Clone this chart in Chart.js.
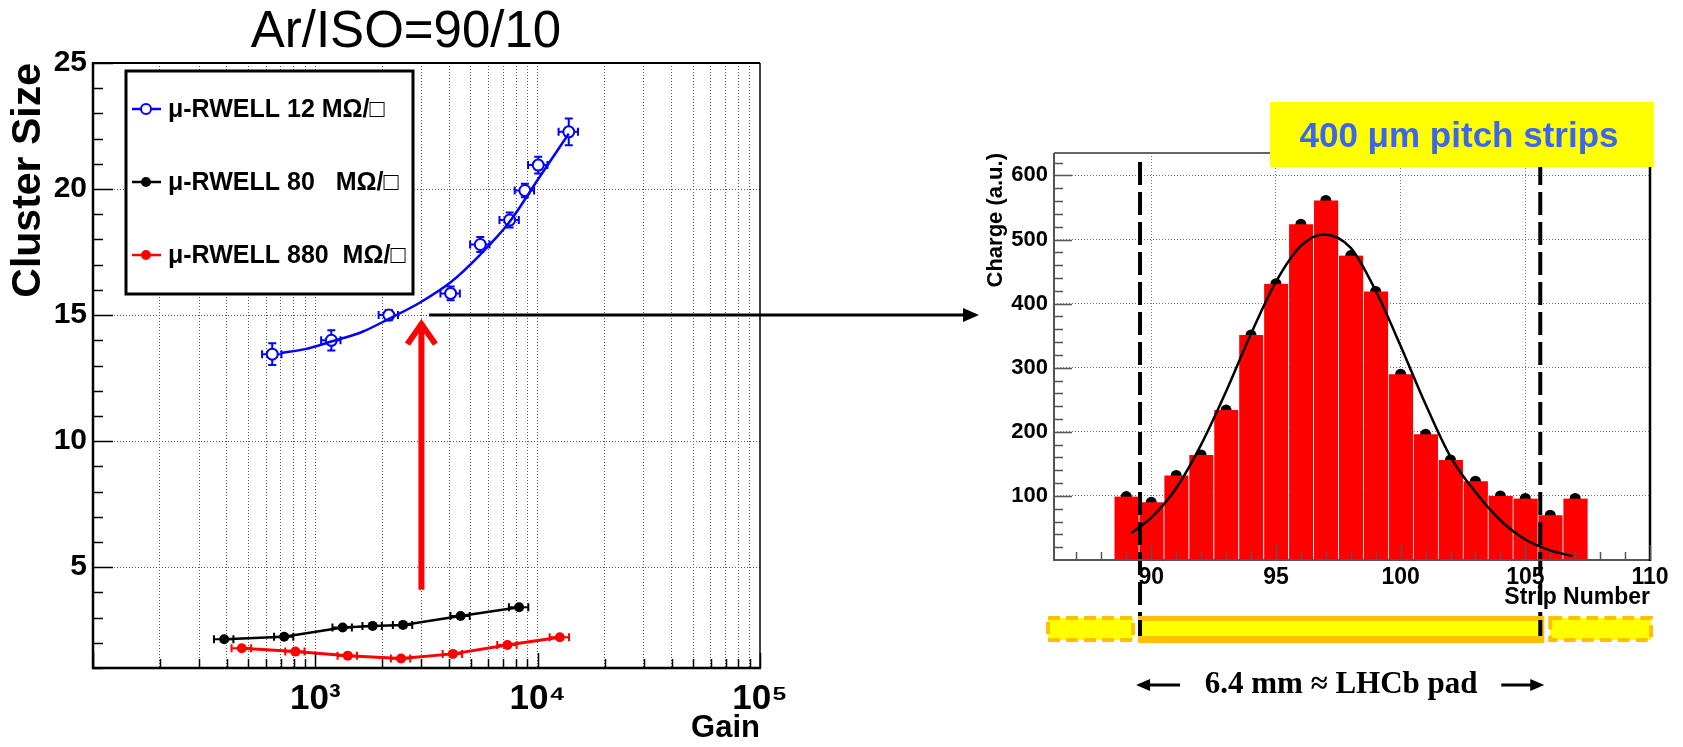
<!DOCTYPE html>
<html>
<head>
<meta charset="utf-8">
<script src="https://cdn.jsdelivr.net/npm/chart.js@4.4.1/dist/chart.umd.min.js"></script>
<style>
  html, body { margin: 0; padding: 0; background: #fff; }
  body { width: 1683px; height: 747px; position: relative; overflow: hidden; }
  #left { position: absolute; left: 0; top: 0; }
  #right { position: absolute; left: 960px; top: 0; }
</style>
</head>
<body>
<canvas id="left" width="985" height="747"></canvas>
<canvas id="right" width="723" height="747"></canvas>
<script>
// ---- left panel: cluster size vs gain ----
const seriesNames = ['μ-RWELL 12 MΩ/□', 'μ-RWELL 80   MΩ/□', 'μ-RWELL 880  MΩ/□'];

const gain12 = [640, 1180, 2140, 4060, 5520, 7480, 8760, 10060, 13800];
const size12 = [13.45, 14.0, 15.0, 15.86, 17.8, 18.77, 19.94, 20.95, 22.27];
const gainErr12 = [64, 118, 214, 406, 552, 748, 876, 1006, 1380];
const sizeErr12 = [0.43, 0.4, 0.2, 0.27, 0.3, 0.3, 0.27, 0.33, 0.53];
const fitGain12 = [700, 900, 1180, 1640, 2140, 2960, 4060, 5520, 7480, 10060, 13800];
const fitSize12 = [13.5, 13.65, 13.95, 14.35, 14.85, 15.5, 16.3, 17.4, 18.7, 20.4, 22.2];

const gain80 = [389, 724, 1327, 1810, 2480, 4500, 8250];
const size80 = [2.14, 2.24, 2.61, 2.67, 2.71, 3.06, 3.41];
const gainErr80 = [39, 72, 133, 181, 248, 450, 825];

const gain880 = [467, 813, 1399, 2430, 4155, 7310, 12580];
const size880 = [1.78, 1.65, 1.49, 1.38, 1.56, 1.91, 2.22];
const gainErr880 = [47, 81, 140, 243, 416, 731, 1258];

const gainTicks = [100, 200, 300, 400, 500, 600, 700, 800, 900,
  1000, 2000, 3000, 4000, 5000, 6000, 7000, 8000, 9000,
  10000, 20000, 30000, 40000, 50000, 60000, 70000, 80000, 90000, 100000];
const gainLabelValues = [1000, 10000, 100000];
const gainLabelText = ['10³', '10⁴', '10⁵'];
const sizeTicks = [1, 2, 3, 4, 5, 6, 7, 8, 9, 10, 11, 12, 13, 14, 15, 16, 17, 18, 19, 20, 21, 22, 23, 24, 25];
const sizeLabelValues = [5, 10, 15, 20, 25];

// ---- right panel: charge per strip ----
const strips = [89, 90, 91, 92, 93, 94, 95, 96, 97, 98, 99, 100, 101, 102, 103, 104, 105, 106, 107];
const charge = [99, 90, 132, 164, 234, 351, 431, 524, 561, 475, 419, 290, 196, 156, 123, 100, 96, 70, 96];
const fitStrip = [89.2, 90, 91, 92, 93, 94, 95, 96, 96.9, 98, 99, 100, 101, 102, 103, 104, 105, 106, 106.9];
const fitCharge = [42, 66, 112, 180, 263, 353, 434, 490, 508, 487, 420, 334, 243, 161, 106, 62, 32, 15, 6];
const stripTicks = [87, 88, 89, 90, 91, 92, 93, 94, 95, 96, 97, 98, 99, 100, 101, 102, 103, 104, 105, 106, 107, 108, 109, 110];
const stripLabelValues = [90, 95, 100, 105, 110];
const chargeTicks = [20, 40, 60, 80, 100, 120, 140, 160, 180, 200, 220, 240, 260, 280, 300, 320, 340, 360, 380, 400,
  420, 440, 460, 480, 500, 520, 540, 560, 580, 600, 620];
const chargeLabelValues = [100, 200, 300, 400, 500, 600];
const padEdges = [89.55, 105.6];

const SANS = '"Liberation Sans", Arial, sans-serif';
const SERIF = '"Liberation Serif", "Times New Roman", serif';

const pts = (xs, ys) => xs.map((v, i) => ({ x: v, y: ys[i] }));

// x errors with end caps, optional y errors
function errorBars(ctx, xs, ys, xv, yv, xe, ye, color) {
  ctx.strokeStyle = color;
  ctx.lineWidth = 2;
  for (let i = 0; i < xv.length; i++) {
    const px = xs.getPixelForValue(xv[i]), py = ys.getPixelForValue(yv[i]);
    const x0 = xs.getPixelForValue(xv[i] - xe[i]), x1 = xs.getPixelForValue(xv[i] + xe[i]);
    ctx.beginPath();
    ctx.moveTo(x0, py); ctx.lineTo(x1, py);
    ctx.moveTo(x0, py - 4); ctx.lineTo(x0, py + 4);
    ctx.moveTo(x1, py - 4); ctx.lineTo(x1, py + 4);
    if (ye) {
      const y0 = ys.getPixelForValue(yv[i] - ye[i]), y1 = ys.getPixelForValue(yv[i] + ye[i]);
      ctx.moveTo(px, y0); ctx.lineTo(px, y1);
      ctx.moveTo(px - 4, y0); ctx.lineTo(px + 4, y0);
      ctx.moveTo(px - 4, y1); ctx.lineTo(px + 4, y1);
    }
    ctx.stroke();
  }
}

// ticks pointing into the plot, ROOT style
function insideTicks(ctx, chart, majorX, majorY, lenX, lenY, color) {
  const { chartArea: a, scales: { x, y } } = chart;
  ctx.strokeStyle = color;
  ctx.lineWidth = 1.5;
  ctx.beginPath();
  x.ticks.forEach(t => {
    const px = Math.round(x.getPixelForValue(t.value)) + 0.5;
    const l = majorX.includes(t.value) ? lenX[0] : lenX[1];
    ctx.moveTo(px, a.bottom); ctx.lineTo(px, a.bottom - l);
  });
  y.ticks.forEach(t => {
    const py = Math.round(y.getPixelForValue(t.value)) + 0.5;
    const l = majorY.includes(t.value) ? lenY[0] : lenY[1];
    ctx.moveTo(a.left, py); ctx.lineTo(a.left + l, py);
  });
  ctx.stroke();
}

function line(ctx, x0, y0, x1, y1, w, c) {
  ctx.strokeStyle = c; ctx.lineWidth = w;
  ctx.beginPath(); ctx.moveTo(x0, y0); ctx.lineTo(x1, y1); ctx.stroke();
}

function hArrow(ctx, x0, x1, y, w, head, half, c) {
  const dir = Math.sign(x1 - x0);
  line(ctx, x0, y, x1 - dir * head * 0.6, y, w, c);
  ctx.fillStyle = c;
  ctx.beginPath();
  ctx.moveTo(x1, y); ctx.lineTo(x1 - dir * head, y - half); ctx.lineTo(x1 - dir * head, y + half);
  ctx.closePath(); ctx.fill();
}

const leftDecor = {
  id: 'leftDecor',
  beforeDatasetsDraw(chart) {
    const { ctx, scales: { x, y } } = chart;
    ctx.save();
    errorBars(ctx, x, y, gain12, size12, gainErr12, sizeErr12, '#0000ff');
    errorBars(ctx, x, y, gain80, size80, gainErr80, null, '#000000');
    errorBars(ctx, x, y, gain880, size880, gainErr880, null, '#ff0000');
    ctx.restore();
  },
  afterDraw(chart) {
    const { ctx, chartArea: a, scales: { x, y } } = chart;
    ctx.save();
    // frame
    line(ctx, a.left, a.top, a.right, a.top, 2, '#000');
    line(ctx, a.right, a.top, a.right, a.bottom, 1.5, '#000');
    line(ctx, a.left, a.top - 1, a.left, a.bottom + 1, 2.5, '#000');
    line(ctx, a.left - 1, a.bottom, a.right + 1, a.bottom, 2.5, '#000');
    insideTicks(ctx, chart, gainLabelValues.concat([100]), sizeLabelValues, [15, 9], [20, 10], '#000');

    // red arrow
    const ax = x.getPixelForValue(3000);
    const tip = y.getPixelForValue(14.8), foot = y.getPixelForValue(4.1);
    line(ctx, ax, foot, ax, tip + 3, 6, '#ff0000');
    ctx.strokeStyle = '#ff0000'; ctx.lineWidth = 6; ctx.lineCap = 'butt'; ctx.lineJoin = 'miter';
    ctx.beginPath();
    ctx.moveTo(ax - 14, tip + 24); ctx.lineTo(ax, tip + 4); ctx.lineTo(ax + 14, tip + 24);
    ctx.stroke();

    // black arrow towards the strip plot
    hArrow(ctx, x.getPixelForValue(3250), a.right + 219, y.getPixelForValue(15), 3, 16, 7, '#000');

    // legend
    const lx = 126, ly = 71, lw = 287, lh = 223;
    ctx.fillStyle = '#fff';
    ctx.fillRect(lx, ly, lw, lh);
    ctx.strokeStyle = '#000'; ctx.lineWidth = 3;
    ctx.strokeRect(lx, ly, lw, lh);
    const colors = ['#0000ff', '#000000', '#ff0000'];
    seriesNames.forEach((name, i) => {
      const ey = 109 + i * 73;
      line(ctx, 132, ey, 161, ey, 2.5, colors[i]);
      ctx.beginPath();
      ctx.arc(146, ey, 5, 0, Math.PI * 2);
      if (i === 0) {
        ctx.fillStyle = '#fff'; ctx.fill();
        ctx.strokeStyle = colors[i]; ctx.lineWidth = 2; ctx.stroke();
      } else {
        ctx.fillStyle = colors[i]; ctx.fill();
      }
      ctx.fillStyle = '#000';
      ctx.font = 'bold 25px ' + SANS;
      ctx.textAlign = 'left'; ctx.textBaseline = 'middle';
      ctx.fillText(name, 168, ey + 1);
    });

    // title
    ctx.fillStyle = '#000';
    ctx.font = '51px ' + SANS;
    ctx.textAlign = 'center'; ctx.textBaseline = 'alphabetic';
    ctx.fillText('Ar/ISO=90/10', 406, 47);
    ctx.restore();
  }
};

new Chart(document.getElementById('left'), {
  type: 'line',
  data: {
    datasets: [
      { label: seriesNames[0] + ' fit', data: pts(fitGain12, fitSize12), borderColor: '#0000ff', borderWidth: 2.5,
        pointRadius: 0, cubicInterpolationMode: 'monotone' },
      { label: seriesNames[0], data: pts(gain12, size12), showLine: false, pointRadius: 5.5, pointBorderWidth: 2,
        pointBorderColor: '#0000ff', pointBackgroundColor: '#ffffff' },
      { label: seriesNames[1], data: pts(gain80, size80), borderColor: '#000000', borderWidth: 2.5, tension: 0,
        pointRadius: 5, pointBorderWidth: 0, pointBackgroundColor: '#000000' },
      { label: seriesNames[2], data: pts(gain880, size880), borderColor: '#ff0000', borderWidth: 3, tension: 0,
        pointRadius: 5, pointBorderWidth: 0, pointBackgroundColor: '#ff0000' }
    ]
  },
  options: {
    responsive: false,
    animation: false,
    layout: { padding: { left: 0, top: 63, right: 225, bottom: 0 } },
    plugins: { legend: { display: false }, tooltip: { enabled: false } },
    scales: {
      x: {
        type: 'logarithmic', min: 100, max: 100000,
        afterBuildTicks: s => { s.ticks = gainTicks.map(v => ({ value: v })); },
        afterFit: s => { s.height = 79; },
        ticks: {
          autoSkip: false, maxRotation: 0, padding: 10, color: '#000',
          font: { family: SANS, size: 35, weight: 'bold' },
          callback: v => { const i = gainLabelValues.indexOf(v); return i >= 0 ? gainLabelText[i] : ''; }
        },
        grid: { drawTicks: false, lineWidth: 1,
          color: c => (c.tick && c.tick.value > 100 && c.tick.value < 100000) ? '#555' : 'rgba(0,0,0,0)' },
        border: { display: false, dash: [1, 2] },
        title: { display: true, text: 'Gain', align: 'end', color: '#000',
          font: { family: SANS, size: 31, weight: 'bold' }, padding: { top: 0, bottom: 0 } }
      },
      y: {
        min: 1, max: 25,
        afterBuildTicks: s => { s.ticks = sizeTicks.map(v => ({ value: v })); },
        afterFit: s => { s.width = 93; },
        ticks: {
          autoSkip: false, padding: 6, color: '#000',
          font: { family: SANS, size: 30, weight: 'bold' },
          callback: v => sizeLabelValues.includes(v) ? String(v) : ''
        },
        grid: { drawTicks: false, lineWidth: 1,
          color: c => (c.tick && sizeLabelValues.includes(c.tick.value) && c.tick.value < 25) ? '#555' : 'rgba(0,0,0,0)' },
        border: { display: false, dash: [1, 2] },
        title: { display: true, text: 'Cluster Size', align: 'end', color: '#000',
          font: { family: SANS, size: 41, weight: 'bold' }, padding: { top: 4, bottom: 0 } }
      }
    }
  },
  plugins: [leftDecor]
});

const rightDecor = {
  id: 'rightDecor',
  afterDatasetsDraw(chart) {
    const { ctx, chartArea: a, scales: { x, y } } = chart;
    ctx.save();
    ctx.strokeStyle = '#000'; ctx.lineWidth = 4;
    ctx.setLineDash([23, 7]);
    padEdges.forEach(v => {
      const px = x.getPixelForValue(v);
      ctx.beginPath(); ctx.moveTo(px, y.getPixelForValue(621)); ctx.lineTo(px, a.bottom + 76); ctx.stroke();
    });
    ctx.restore();
  },
  afterDraw(chart) {
    const { ctx, chartArea: a, scales: { x, y } } = chart;
    ctx.save();
    line(ctx, a.left, a.top, a.right, a.top, 2, '#666');
    line(ctx, a.left, a.top, a.left, a.bottom, 2, '#555');
    line(ctx, a.left - 1, a.bottom, a.right, a.bottom, 2, '#555');
    line(ctx, a.right, a.top, a.right, a.bottom + 1, 2.5, '#000');
    insideTicks(ctx, chart, stripLabelValues, chargeLabelValues, [15, 8], [18, 9], '#555');

    // pad strip under the axis
    const pTop = a.bottom + 58, pH = 22;
    const c0 = x.getPixelForValue(padEdges[0]) - 2, c1 = x.getPixelForValue(padEdges[1]) + 4;
    const s0 = x.getPixelForValue(85.86), s1 = x.getPixelForValue(110.04);
    ctx.fillStyle = '#ffff00';
    ctx.fillRect(s0, pTop, c0 - 5 - s0, pH);
    ctx.fillRect(c1 + 6, pTop, s1 - c1 - 6, pH);
    ctx.strokeStyle = '#ffc000'; ctx.lineWidth = 4;
    ctx.setLineDash([12, 6]);
    ctx.strokeRect(s0, pTop, c0 - 5 - s0, pH);
    ctx.strokeRect(c1 + 6, pTop, s1 - c1 - 6, pH);
    ctx.setLineDash([]);
    ctx.fillStyle = '#ffc000';
    ctx.fillRect(c0, pTop - 2, c1 - c0, pH + 5);
    ctx.fillStyle = '#ffff00';
    ctx.fillRect(c0 + 3, pTop + 3, c1 - c0 - 6, pH - 7);
    padEdges.forEach(v => line(ctx, x.getPixelForValue(v), pTop + 2, x.getPixelForValue(v), pTop + 18, 4, '#000'));

    // pad size caption
    const cy = a.bottom + 125;
    hArrow(ctx, c0 + 42, c0 - 2, cy, 3, 14, 6, '#000');
    hArrow(ctx, c1 - 43, c1, cy, 3, 14, 6, '#000');
    ctx.fillStyle = '#000';
    ctx.font = 'bold 31px ' + SERIF;
    ctx.textAlign = 'center'; ctx.textBaseline = 'alphabetic';
    ctx.fillText('6.4 mm ≈ LHCb pad', (c0 + c1) / 2, cy + 8);

    // strip pitch label
    ctx.fillStyle = '#ffff00';
    ctx.fillRect(310, 102, 384, 65);
    ctx.fillStyle = '#3d66ee';
    ctx.font = 'bold 35px ' + SANS;
    ctx.textAlign = 'center';
    ctx.fillText('400 μm pitch strips', 499, 147);
    ctx.restore();
  }
};

new Chart(document.getElementById('right'), {
  type: 'bar',
  data: {
    datasets: [
      { type: 'line', label: 'fit', data: pts(fitStrip, fitCharge), borderColor: '#000', borderWidth: 2.5,
        pointRadius: 0, cubicInterpolationMode: 'monotone', order: 0 },
      { type: 'bar', label: 'charge', data: pts(strips, charge), backgroundColor: '#ff0000',
        borderColor: 'rgba(255,255,255,0.85)', borderWidth: { left: 1, right: 0, top: 0, bottom: 0 },
        barPercentage: 1, categoryPercentage: 1, order: 1 },
      { type: 'line', label: 'points', data: pts(strips, charge), showLine: false, pointRadius: 5.5,
        pointBorderWidth: 0, pointBackgroundColor: '#000', order: 2 }
    ]
  },
  options: {
    responsive: false,
    animation: false,
    layout: { padding: { left: 0, top: 153, right: 33, bottom: 0 } },
    plugins: { legend: { display: false }, tooltip: { enabled: false } },
    scales: {
      x: {
        type: 'linear', min: 86.1, max: 110, offset: false,
        afterBuildTicks: s => { s.ticks = stripTicks.map(v => ({ value: v })); },
        afterFit: s => { s.height = 187; },
        ticks: {
          autoSkip: false, maxRotation: 0, padding: 4, color: '#000',
          font: { family: SANS, size: 23, weight: 'bold' },
          callback: v => stripLabelValues.includes(v) ? String(v) : ''
        },
        grid: { drawTicks: false, offset: false, lineWidth: 1,
          color: c => (c.tick && stripLabelValues.includes(c.tick.value) && c.tick.value < 110) ? '#777' : 'rgba(0,0,0,0)' },
        border: { display: false, dash: [1, 2] },
        title: { display: true, text: 'Strip Number', align: 'end', color: '#000',
          font: { family: SANS, size: 23, weight: 'bold' }, padding: { top: 0, bottom: 136 } }
      },
      y: {
        min: 0, max: 635,
        afterBuildTicks: s => { s.ticks = chargeTicks.map(v => ({ value: v })); },
        afterFit: s => { s.width = 94; },
        ticks: {
          autoSkip: false, padding: 6, color: '#000',
          font: { family: SANS, size: 22, weight: 'bold' },
          callback: v => chargeLabelValues.includes(v) ? String(v) : ''
        },
        grid: { drawTicks: false, lineWidth: 1,
          color: c => (c.tick && chargeLabelValues.includes(c.tick.value)) ? '#777' : 'rgba(0,0,0,0)' },
        border: { display: false, dash: [1, 2] },
        title: { display: true, text: 'Charge (a.u.)', align: 'end', color: '#000',
          font: { family: SANS, size: 22, weight: 'bold' }, padding: { top: 23, bottom: 0 } }
      }
    }
  },
  plugins: [rightDecor]
});
</script>
</body>
</html>
